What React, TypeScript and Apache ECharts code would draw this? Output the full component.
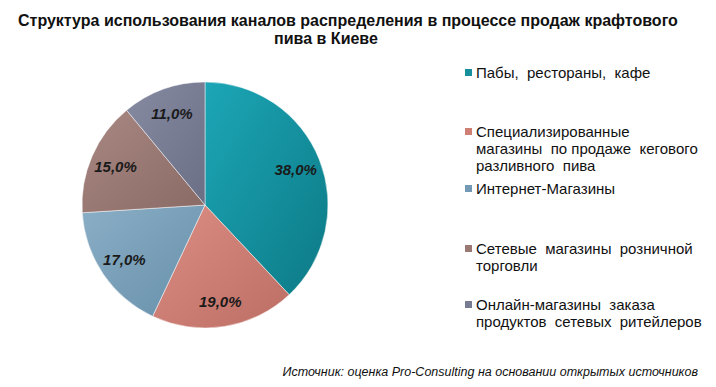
import React, { useEffect, useRef } from "react";
import * as echarts from "echarts";

const titleLines = [
  "Структура использования каналов распределения в процессе продаж крафтового",
  "пива в Киеве",
];
const categories = [
  "Пабы, рестораны, кафе",
  "Специализированные магазины по продаже кегового разливного пива",
  "Интернет-Магазины",
  "Сетевые магазины розничной торговли",
  "Онлайн-магазины заказа продуктов сетевых ритейлеров",
];
const legendLines = [
  ["Пабы,  рестораны,  кафе"],
  ["Специализированные", "магазины  по продаже  кегового", "разливного  пива"],
  ["Интернет-Магазины"],
  ["Сетевые  магазины  розничной", "торговли"],
  ["Онлайн-магазины  заказа", "продуктов  сетевых  ритейлеров"],
];
const values = [38.0, 19.0, 17.0, 15.0, 11.0];
const source = "Источник: оценка Pro-Consulting на основании открытых источников";

const colorsLight = ["#1ca6b6", "#dc8e84", "#8aaec6", "#a98883", "#878ba2"];
const colorsDark = ["#0d7a86", "#bd6e64", "#6890aa", "#8a6a65", "#6b6f86"];
const legendColors = ["#178f9c", "#cf7f74", "#7399b4", "#9a7873", "#787c93"];
const legendTops = [72, 131, 188, 248, 304];

export default function App() {
  const ref = useRef<HTMLDivElement>(null);
  useEffect(() => {
    if (!ref.current) return;
    const chart = echarts.init(ref.current, null, { renderer: "svg" });
    const cx = 205;
    const cy = 205;
    const R = 123;
    const data = categories.map((name, i) => ({
      name,
      value: values[i],
      itemStyle: {
        color: new echarts.graphic.LinearGradient(0, 0, 1, 1, [
          { offset: 0, color: colorsLight[i] },
          { offset: 1, color: colorsDark[i] },
        ]),
      },
    }));
    const graphics: any[] = [];
    const titleX = [18, 326];
    const titleAlign = ["left", "center"];
    titleLines.forEach((t, i) => {
      graphics.push({
        type: "text",
        x: titleX[i],
        y: 20 + i * 18,
        style: {
          text: t,
          fill: "#111",
          font: "bold 16px 'Liberation Sans', Arial, sans-serif",
          textAlign: titleAlign[i],
          textVerticalAlign: "middle",
        },
      });
    });
    legendLines.forEach((lines, i) => {
      graphics.push({
        type: "rect",
        shape: { x: 465, y: legendTops[i] - 3, width: 7, height: 7 },
        style: { fill: legendColors[i] },
      });
      lines.forEach((ln, j) => {
        graphics.push({
          type: "text",
          x: 476,
          y: legendTops[i] + j * 17,
          style: {
            text: ln,
            fill: "#111",
            font: "15px 'Liberation Sans', Arial, sans-serif",
            textAlign: "left",
            textVerticalAlign: "middle",
          },
        });
      });
    });
    graphics.push({
      type: "text",
      x: 698,
      y: 372,
      style: {
        text: source,
        fill: "#111",
        font: "italic 12.5px 'Liberation Sans', Arial, sans-serif",
        textAlign: "right",
        textVerticalAlign: "middle",
      },
    });
    chart.setOption({
      animation: false,
      backgroundColor: "#ffffff",
      graphic: graphics,
      series: [
        {
          type: "pie",
          center: [cx, cy],
          radius: [0, R],
          startAngle: 90,
          clockwise: true,
          data,
          label: { show: false },
          labelLine: { show: false },
          itemStyle: { borderColor: "rgba(255,255,255,0.6)", borderWidth: 0.8 },
          silent: true,
        },
        {
          type: "pie",
          center: [cx, cy],
          radius: [66, R],
          startAngle: 90,
          clockwise: true,
          data: categories.map((name, i) => ({ name, value: values[i] })),
          itemStyle: { color: "rgba(0,0,0,0)" },
          label: {
            show: true,
            position: "inside",
            formatter: (p: any) => p.value.toFixed(1).replace(".", ",") + "%",
            fontSize: 15,
            fontWeight: "bold",
            fontStyle: "italic",
            fontFamily: "'Liberation Sans', Arial, sans-serif",
            color: "#1a1a1a",
          },
          labelLine: { show: false },
          silent: true,
        },
      ],
    });
    return () => chart.dispose();
  }, []);
  return (
    <div
      ref={ref}
      style={{ position: "fixed", left: 0, top: 0, width: 716, height: 387 }}
    />
  );
}
